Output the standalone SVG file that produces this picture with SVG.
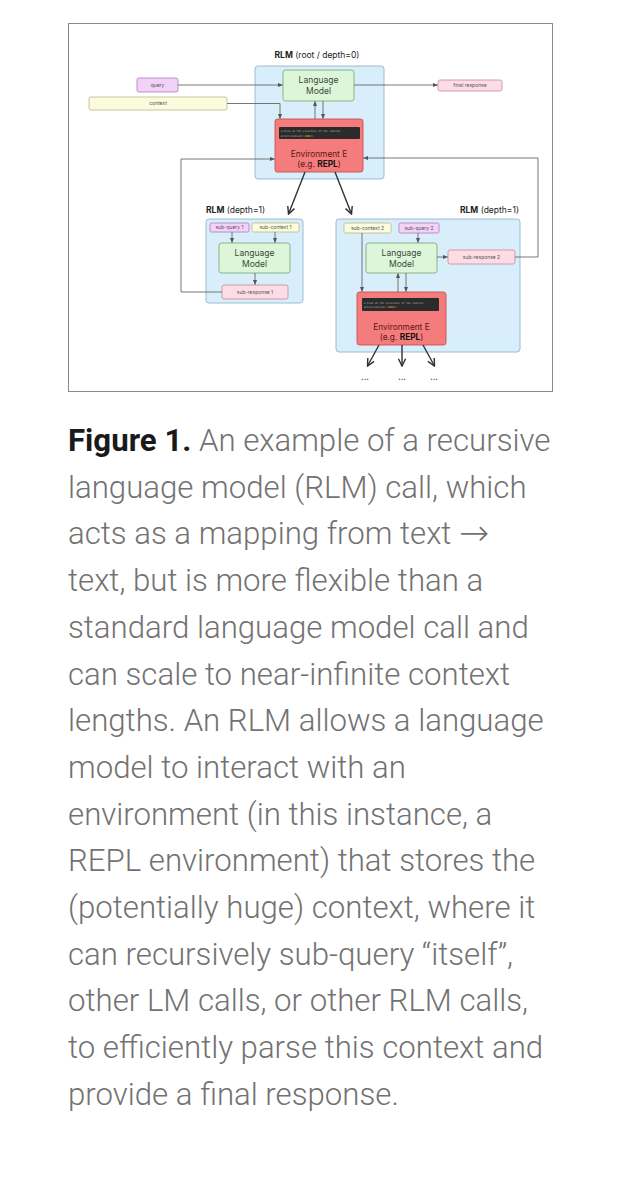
<svg xmlns="http://www.w3.org/2000/svg" width="620" height="1200" viewBox="0 0 620 1200">
<defs>
<marker id="ah" viewBox="0 0 6 6" refX="5.5" refY="3" markerWidth="5" markerHeight="5" orient="auto" markerUnits="userSpaceOnUse"><path d="M0,0.5 L6,3 L0,5.5 Z" fill="#555"/></marker>
<marker id="ahv" viewBox="0 0 10 10" refX="9" refY="5" markerWidth="9" markerHeight="9" orient="auto" markerUnits="userSpaceOnUse"><path d="M1,1 L9,5 L1,9" fill="none" stroke="#333" stroke-width="1.6"/></marker>
<style>
.rlm{fill:#d8effb;stroke:#93b7cc;stroke-width:0.9}
.lm{fill:#ddf5d9;stroke:#7eae79;stroke-width:0.9}
.env{fill:#f47c7c;stroke:#c9514f;stroke-width:0.9}
.code{fill:#2b2b2b}
.q{fill:#f3d2f8;stroke:#ad78bd;stroke-width:0.8}
.c{fill:#fbfbdd;stroke:#b9b98a;stroke-width:0.8}
.r{fill:#fcdde6;stroke:#c58b9b;stroke-width:0.8}
.t{font-family:Inter,"Liberation Sans",sans-serif;fill:#333}
.title{font-size:8.5px;fill:#222}
.lmt{font-size:8.5px;text-anchor:middle;fill:#3a4a3a}
.envt{font-size:8.3px;text-anchor:middle;fill:#5e1616}
.sm{font-size:5px;text-anchor:middle;fill:#555}
.ct{font-family:"DejaVu Sans Mono",monospace;font-size:2.6px;fill:#bbb}
.ln{fill:none;stroke:#555;stroke-width:0.8}
.thick{fill:none;stroke:#333;stroke-width:1.4}
.cap{font-family:Roboto,"Liberation Sans",sans-serif;font-size:31.2px;font-weight:300;fill:#727272}
</style>
</defs>
<rect x="68.5" y="23.5" width="484" height="368" fill="#fff" stroke="#8a8a8a" stroke-width="1"/>

<g id="rlm-root">
<rect class="rlm" x="255" y="66" width="129" height="113" rx="3"/>
<text class="t title" x="317" y="58" text-anchor="middle"><tspan font-weight="bold">RLM</tspan> (root / depth=0)</text>
</g>
<g id="lm-root">
<rect class="lm" x="283" y="70" width="71" height="31" rx="2.5"/>
<text class="t lmt" x="318.5" y="83">Language</text>
<text class="t lmt" x="318.5" y="93.5">Model</text>
</g>
<g id="env-root">
<rect class="env" x="275" y="119" width="88" height="53" rx="2.5"/>
<rect class="code" x="279" y="127" width="81" height="12" rx="1"/>
<text class="ct" x="281" y="132"># Peek at the structure of the context</text>
<text class="ct" x="281" y="136.5">print(context<tspan fill="#e8b04a">[:1000]</tspan>)</text>
<text class="t envt" x="319" y="156.5">Environment E</text>
<text class="t envt" x="319" y="167">(e.g. <tspan font-weight="bold" fill="#111">REPL</tspan>)</text>
</g>
<g id="query">
<rect class="q" x="137" y="78" width="41" height="14" rx="2"/>
<text class="t sm" x="157.5" y="86.8">query</text>
</g>
<g id="context">
<rect class="c" x="89" y="97" width="138" height="13" rx="2"/>
<text class="t sm" x="158" y="105.3">context</text>
</g>
<g id="final-response">
<rect class="r" x="438" y="80" width="64" height="11" rx="2"/>
<text class="t sm" x="470" y="87.3">final response</text>
</g>

<g id="rlm-left">
<rect class="rlm" x="206" y="219" width="97" height="84" rx="3"/>
<text class="t title" x="206" y="212.5"><tspan font-weight="bold">RLM</tspan> (depth=1)</text>
</g>
<g id="subquery1">
<rect class="q" x="210" y="223" width="39" height="9" rx="1.5"/>
<text class="t sm" x="229.5" y="229.3" font-size="4.3">sub-query 1</text>
</g>
<g id="subcontext1">
<rect class="c" x="252" y="223" width="47" height="9" rx="1.5"/>
<text class="t sm" x="275.5" y="229.3" font-size="4.3">sub-context 1</text>
</g>
<g id="lm-left">
<rect class="lm" x="219" y="243" width="71" height="30" rx="2.5"/>
<text class="t lmt" x="254.5" y="256">Language</text>
<text class="t lmt" x="254.5" y="266.5">Model</text>
</g>
<g id="subresponse1">
<rect class="r" x="222" y="285" width="66" height="14" rx="2"/>
<text class="t sm" x="255" y="293.8">sub-response 1</text>
</g>

<g id="rlm-right">
<rect class="rlm" x="336" y="219" width="184" height="133" rx="3"/>
<text class="t title" x="519" y="212.5" text-anchor="end"><tspan font-weight="bold">RLM</tspan> (depth=1)</text>
</g>
<g id="subcontext2">
<rect class="c" x="344" y="223" width="47" height="10" rx="1.5"/>
<text class="t sm" x="367.5" y="229.8" font-size="4.3">sub-context 2</text>
</g>
<g id="subquery2">
<rect class="q" x="399" y="223" width="40" height="10" rx="1.5"/>
<text class="t sm" x="419" y="229.8" font-size="4.3">sub-query 2</text>
</g>
<g id="lm-right">
<rect class="lm" x="366" y="243" width="71" height="30" rx="2.5"/>
<text class="t lmt" x="401.5" y="256">Language</text>
<text class="t lmt" x="401.5" y="266.5">Model</text>
</g>
<g id="subresponse2">
<rect class="r" x="448" y="250" width="67" height="14" rx="2"/>
<text class="t sm" x="481.5" y="258.8">sub-response 2</text>
</g>
<g id="env-right">
<rect class="env" x="357" y="292" width="89" height="53" rx="2.5"/>
<rect class="code" x="362" y="298" width="77" height="13" rx="1"/>
<text class="ct" x="364" y="303.5"># Peek at the structure of the context</text>
<text class="ct" x="364" y="308">print(context<tspan fill="#e8b04a">[:1000]</tspan>)</text>
<text class="t envt" x="401.5" y="329.5">Environment E</text>
<text class="t envt" x="401.5" y="340">(e.g. <tspan font-weight="bold" fill="#111">REPL</tspan>)</text>
</g>
<g id="ellipses">
<text class="t" x="365" y="380" font-size="8" font-weight="bold" text-anchor="middle" fill="#333">...</text>
<text class="t" x="402" y="380" font-size="8" font-weight="bold" text-anchor="middle" fill="#333">...</text>
<text class="t" x="434" y="380" font-size="8" font-weight="bold" text-anchor="middle" fill="#333">...</text>
</g>

<g id="connectors">
<path class="ln" d="M178,85 H282.5" marker-end="url(#ah)"/>
<path class="ln" d="M227,103.5 H280 V118.5" marker-end="url(#ah)"/>
<path class="ln" d="M354,85 H437.5" marker-end="url(#ah)"/>
<path class="ln" d="M315,119 V101.5" marker-end="url(#ah)"/>
<path class="ln" d="M323,101 V118.5" marker-end="url(#ah)"/>
<path class="ln" d="M222,292 H181 V159 H274.5" marker-end="url(#ah)"/>
<path class="ln" d="M515,257 H538 V158 H363.5" marker-end="url(#ah)"/>
<path class="thick" d="M305,172 L288.5,214" marker-end="url(#ahv)"/>
<path class="thick" d="M335,172 L351.5,214" marker-end="url(#ahv)"/>
<path class="ln" d="M232,232 V242.5" marker-end="url(#ah)"/>
<path class="ln" d="M275,232 V242.5" marker-end="url(#ah)"/>
<path class="ln" d="M255,273 V284.5" marker-end="url(#ah)"/>
<path class="ln" d="M418,233 V242.5" marker-end="url(#ah)"/>
<path class="ln" d="M362,233 V291.5" marker-end="url(#ah)"/>
<path class="ln" d="M437,257 H447.5" marker-end="url(#ah)"/>
<path class="ln" d="M398,292 V273.5" marker-end="url(#ah)"/>
<path class="ln" d="M406,273 V291.5" marker-end="url(#ah)"/>
<path class="thick" d="M379,345 L367.5,366" marker-end="url(#ahv)"/>
<path class="thick" d="M402,345 V366" marker-end="url(#ahv)"/>
<path class="thick" d="M423,345 L434.5,366" marker-end="url(#ahv)"/>
</g>

<g id="caption">
<text class="cap" x="68" y="451"><tspan font-weight="bold" fill="#1a1a1a">Figure 1.</tspan> An example of a recursive</text>
<text class="cap" x="68" y="497.7">language model (RLM) call, which</text>
<text class="cap" x="68" y="544.4">acts as a mapping from text <tspan font-family="'DejaVu Sans',sans-serif" font-weight="200" font-size="36px" dy="1">→</tspan></text>
<text class="cap" x="68" y="591.1">text, but is more flexible than a</text>
<text class="cap" x="68" y="637.8">standard language model call and</text>
<text class="cap" x="68" y="684.5">can scale to near-infinite context</text>
<text class="cap" x="68" y="731.2">lengths. An RLM allows a language</text>
<text class="cap" x="68" y="777.9">model to interact with an</text>
<text class="cap" x="68" y="824.6">environment (in this instance, a</text>
<text class="cap" x="68" y="871.3">REPL environment) that stores the</text>
<text class="cap" x="68" y="918">(potentially huge) context, where it</text>
<text class="cap" x="68" y="964.7">can recursively sub-query “itself”,</text>
<text class="cap" x="68" y="1011.4">other LM calls, or other RLM calls,</text>
<text class="cap" x="68" y="1058.1">to efficiently parse this context and</text>
<text class="cap" x="68" y="1104.8">provide a final response.</text>
</g>
</svg>
